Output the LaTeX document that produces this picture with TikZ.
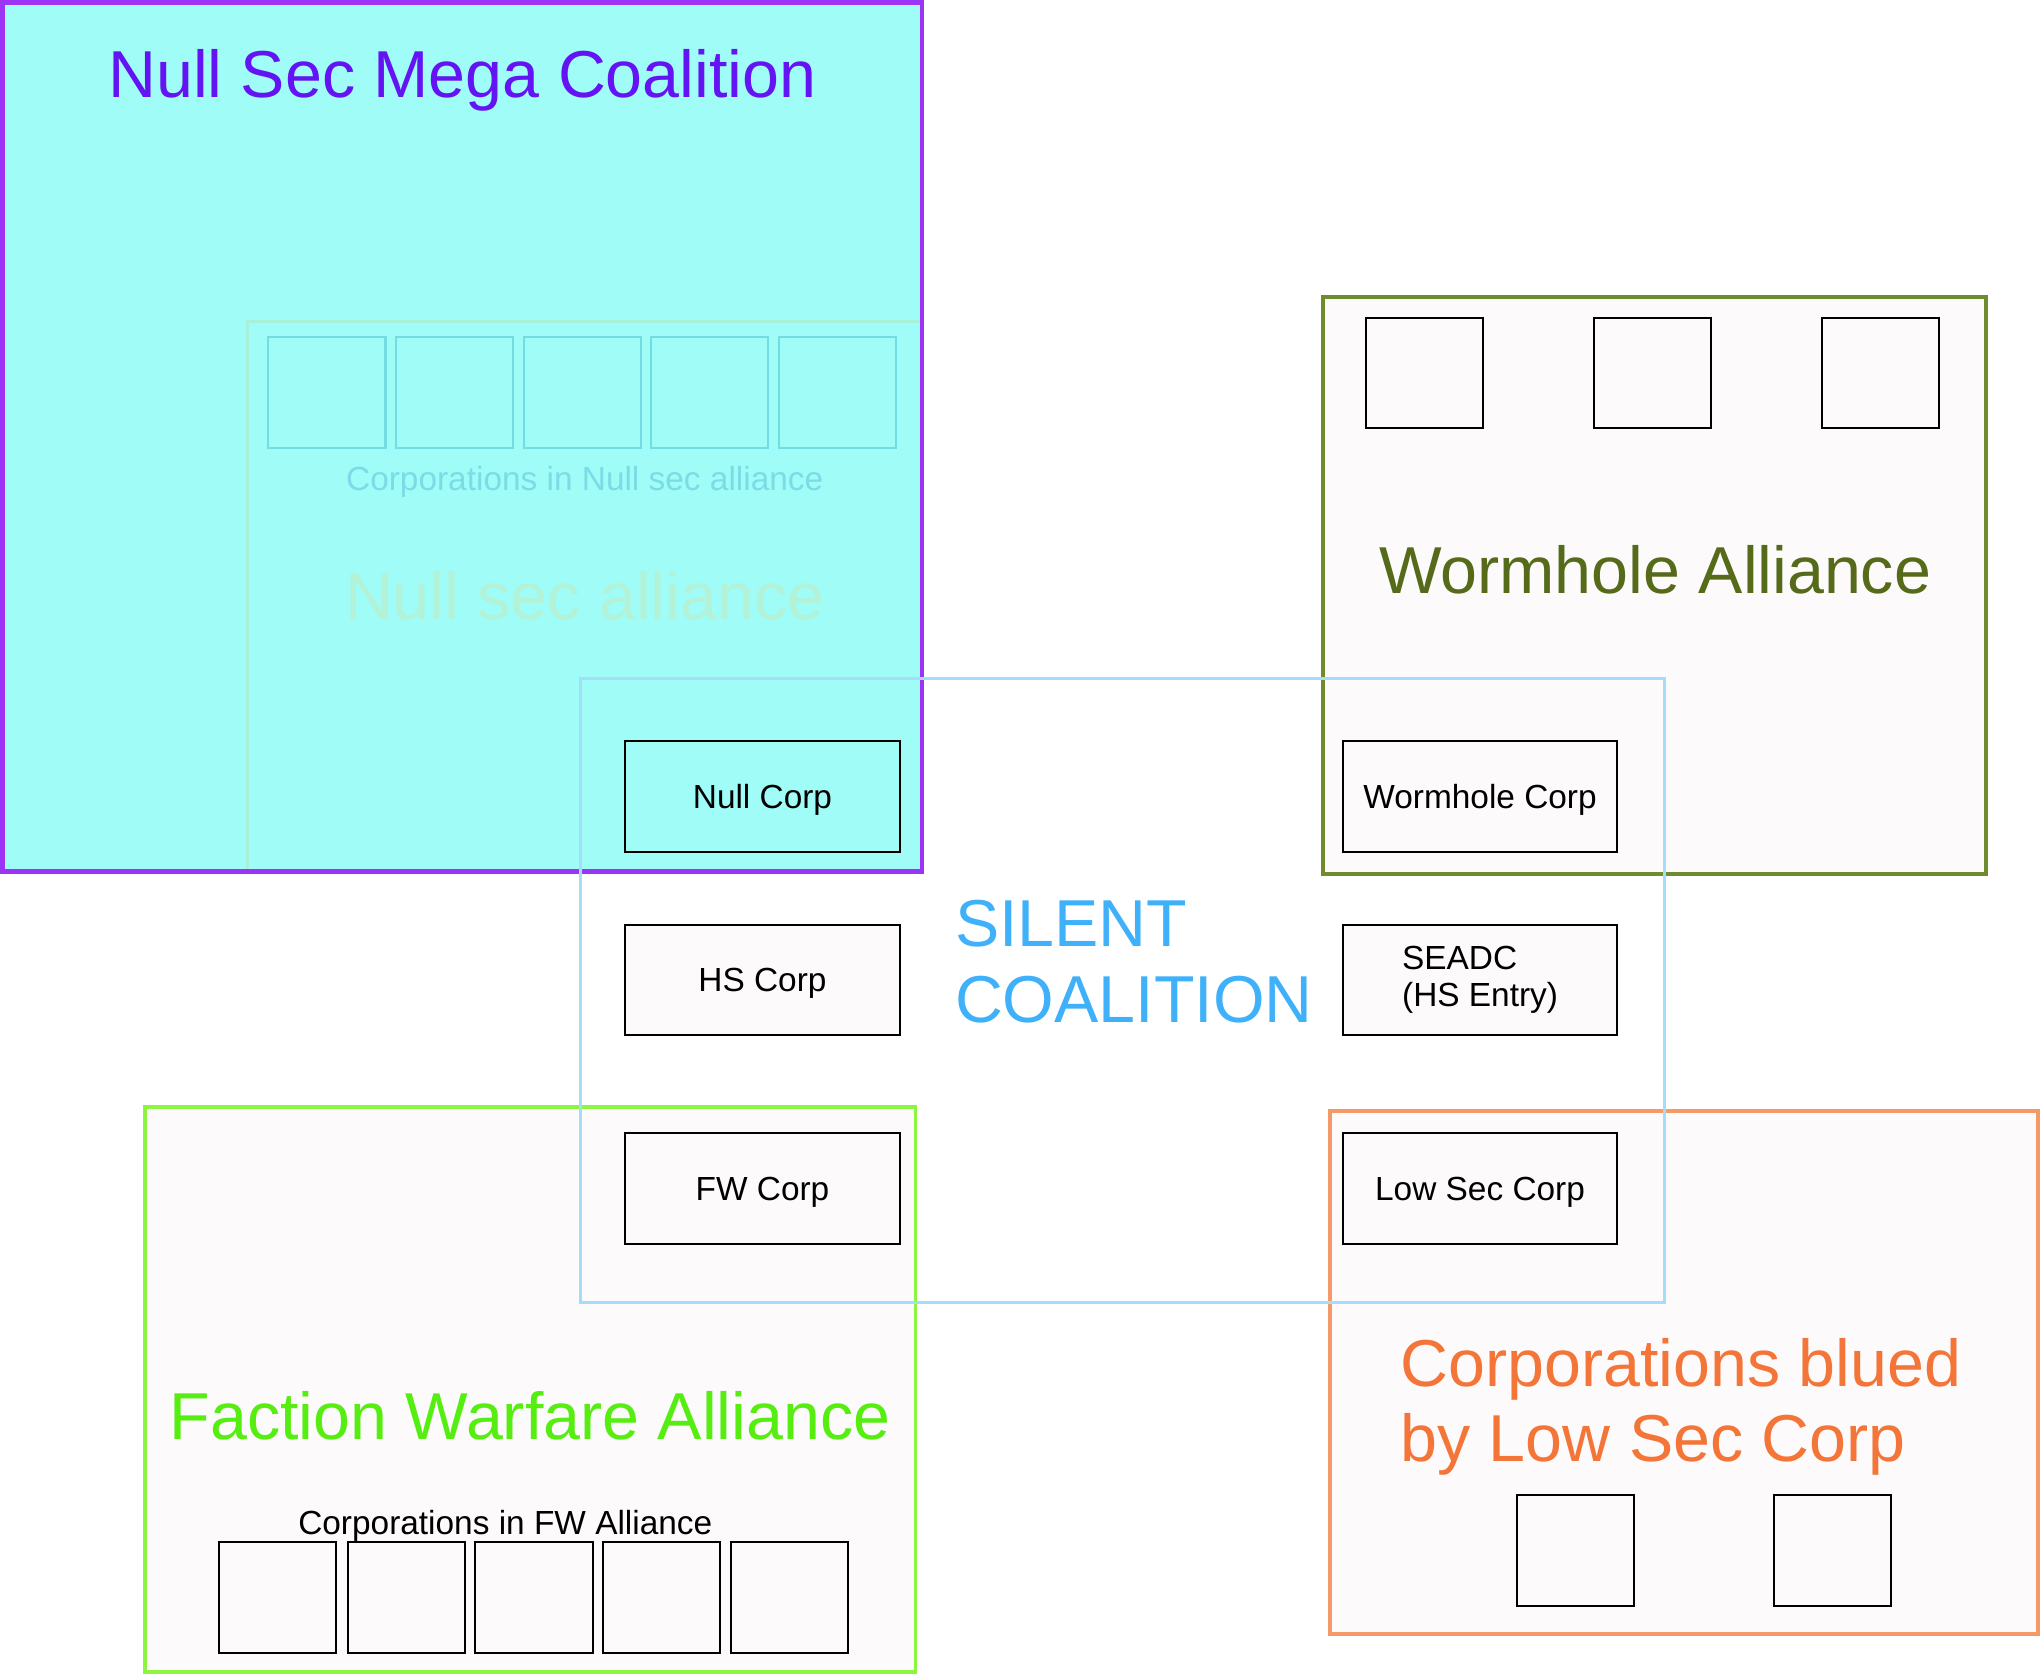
\documentclass[tikz,border=0pt]{standalone}
\usepackage{fontspec}
\setmainfont{Liberation Sans}
\definecolor{megafill}{HTML}{9FFCF7}
\definecolor{megaline}{HTML}{9B34F5}
\definecolor{megatext}{HTML}{6414F2}
\definecolor{nullline}{HTML}{A8F0D8}
\definecolor{nullsq}{HTML}{72DCE2}
\definecolor{nulltext}{HTML}{7CDCE6}
\definecolor{nullbig}{HTML}{B3F2D6}
\definecolor{boxfill}{HTML}{FCFAFA}
\definecolor{wormline}{HTML}{6E8B2E}
\definecolor{wormtext}{HTML}{556B1A}
\definecolor{fwline}{HTML}{8CF53F}
\definecolor{fwtext}{HTML}{55EE10}
\definecolor{lowline}{HTML}{F49A68}
\definecolor{lowtext}{HTML}{F47538}
\definecolor{silentline}{HTML}{A3DDF8}
\definecolor{silenttext}{HTML}{3FB0FA}
\tikzset{
    BIG/.style ={font=\fontsize{29}{33}\selectfont, inner sep=0pt},
    SMALL/.style ={font=\fontsize{14.6}{16}\selectfont, inner sep=0pt},
    CB/.style ={rectangle, draw, fill=boxfill, line width=0.9pt, minimum width=4.22cm, minimum height=1.7cm, SMALL},
    CR/.style ={CB, text depth=0pt},
    SQ/.style ={rectangle, draw, fill=boxfill, line width=0.9pt, minimum width=1.8cm, minimum height=1.7cm},
    SQN/.style ={SQ, draw=nullsq, fill=none},
    AL/.style ={line width=1.7pt}}

\begin{document}
\begin{tikzpicture}[x=0.02cm,y=-0.02cm]
        \useasboundingbox (0,0) rectangle (1568,1286);
        % mega coalition and null sec alliance
        \fill[megafill] (2,2) rectangle (708,669);
        \draw[nullline, line width=1.1pt] (190,247) rectangle (708,669);
        \foreach \x [count=\i] in {251,349,447,545,643}
            \node[SQN] (ns\i) at (\x,301.5) {};
        \node[SMALL, text=nulltext, anchor=base] (nsc) at (449,377) {Corporations in Null sec alliance};
        \node[BIG, text=nullbig, anchor=base] (nsa) at (449,476) {Null sec alliance};
        \draw[megaline, line width=2pt] (2,2) rectangle (708,669);
        \node[BIG, text=megatext, anchor=base] (mega) at (355,75) {Null Sec Mega Coalition};
        % wormhole alliance
        \draw[AL, wormline, fill=boxfill] (1016,228) rectangle (1525,671);
        \foreach \x [count=\i] in {1094,1269,1444}
            \node[SQ] (wh\i) at (\x,286.5) {};
        \node[BIG, text=wormtext, anchor=base] (wha) at (1271,456) {Wormhole Alliance};
        % faction warfare alliance
        \draw[AL, fwline, fill=boxfill] (111,850) rectangle (703,1284);
        \foreach \x [count=\i] in {213,312,410,508,606}
            \node[SQ] (fw\i) at (\x,1226.5) {};
        \node[SMALL, anchor=base] (fwc) at (388,1178) {Corporations in FW Alliance};
        \node[BIG, text=fwtext, anchor=base] (fwa) at (407,1105) {Faction Warfare Alliance};
        % blued by low sec
        \draw[AL, lowline, fill=boxfill] (1021,853) rectangle (1565,1255);
        \foreach \x [count=\i] in {1210,1407}
            \node[SQ] (ls\i) at (\x,1190.5) {};
        \node[BIG, text=lowtext, align=left, anchor=north west] (lsb) at (1075,1027) {Corporations blued\\by Low Sec Corp};
        % silent coalition
        \draw[silentline, line width=1.4pt] (446,521) rectangle (1278,1000);
        \node[BIG, text=silenttext, align=left, anchor=north west] (sil) at (733,691) {SILENT\\COALITION};
        \node[CR, fill=none] (nc) at (585.5,611.5) {Null Corp};
        \node[CR] (hc) at (585.5,752.5) {HS Corp};
        \node[CR] (fc) at (585.5,912.5) {FW Corp};
        \node[CR] (wc) at (1136.5,611.5) {Wormhole Corp};
        \node[CB, align=left] (se) at (1136.5,752.5) {SEADC\\(HS Entry)};
        \node[CR] (lc) at (1136.5,912.5) {Low Sec Corp};
    \end{tikzpicture}
\end{document}
